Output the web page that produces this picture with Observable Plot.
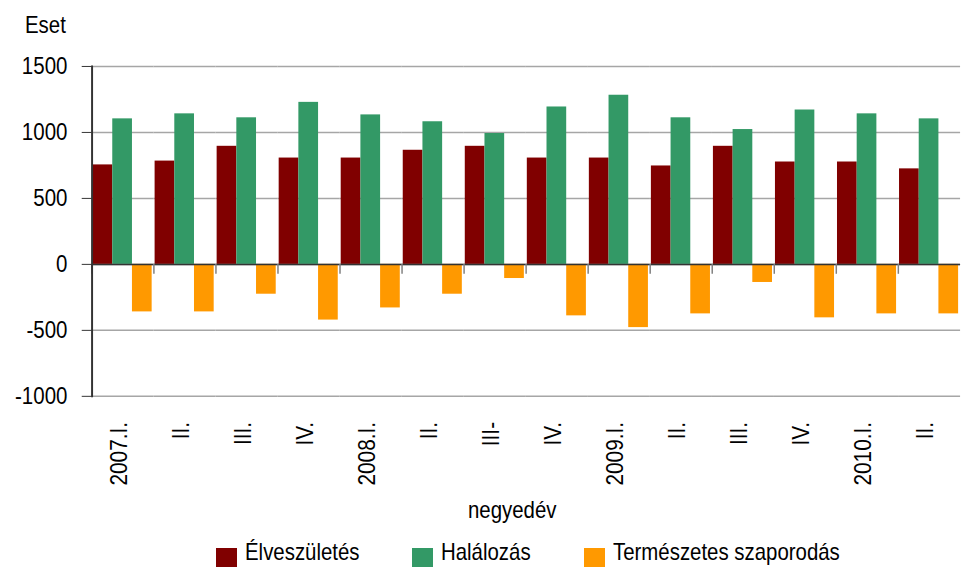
<!DOCTYPE html>
<html>
<head>
<meta charset="utf-8">
<script src="https://cdn.jsdelivr.net/npm/d3@7"></script>
<script src="https://cdn.jsdelivr.net/npm/@observablehq/plot@0.6"></script>
<style>
  html, body { margin: 0; padding: 0; background: #fff; overflow: hidden; }
  #wrap { position: relative; width: 965px; height: 568px; overflow: hidden;
          font-family: "Liberation Sans", Arial, sans-serif; color: #000; }
  #chart { position: absolute; left: 0; top: 0; }
  .lbl { position: absolute; font-size: 24px; line-height: 24px; white-space: nowrap;
         transform-origin: 0 0; transform: scaleX(0.85); }
  .sw { position: absolute; width: 21px; height: 19px; }
</style>
</head>
<body>
<div id="wrap">
  <div id="chart"></div>
  <div class="lbl" id="ylab" style="left:25px; top:13px;">Eset</div>
  <div class="lbl" id="xlab" style="left:468px; top:498px;">negyedév</div>
  <div id="legend"></div>
</div>
<script>
const categories = ["2007.I.", "II.", "III.", "IV.", "2008.I.", "II. ", "III-", "IV. ", "2009.I.", "II.  ", "III. ", "IV.  ", "2010.I.", "II.   "];
const series = ["Élveszületés", "Halálozás", "Természetes szaporodás"];
const colors = ["#800000", "#339966", "#FF9900"];
const births = [754, 783, 895, 806, 806, 865, 895, 806, 806, 746, 895, 776, 776, 724];
const deaths = [1103, 1141, 1111, 1228, 1133, 1081, 992, 1193, 1282, 1111, 1022, 1170, 1141, 1103];
const natural = [-360, -360, -226, -422, -330, -226, -107, -390, -479, -375, -137, -405, -375, -375];
const yTicks = [-1000, -500, 0, 500, 1000, 1500];

const values = [births, deaths, natural];
const data = [];
categories.forEach((c, i) => series.forEach((s, j) => data.push({cat: c, series: s, value: values[j][i]})));

const font = '"Liberation Sans", Arial, sans-serif';

const chart = Plot.plot({
  width: 980,
  height: 500,
  marginLeft: 91,
  marginRight: 3,
  marginTop: 67,
  marginBottom: 98,
  style: {fontFamily: font, fontSize: "24px", color: "#000", background: "#fff", overflow: "visible"},
  fx: {domain: categories, padding: 0, label: null},
  x: {domain: series, paddingInner: 0, paddingOuter: 0.045, align: 0.4, axis: null},
  y: {domain: [-1000, 1500], label: null},
  color: {domain: series, range: colors},
  marks: [
    Plot.gridY(yTicks, {stroke: "#a6a6a6", strokeOpacity: 1, strokeWidth: 1.5}),
    Plot.barY(data, {fx: "cat", x: "series", y: "value", fill: "series"}),
    Plot.ruleY([0], {stroke: "#333", strokeWidth: 1.5}),
    Plot.ruleX(categories, {fx: d => d, x: () => series[0], y1: 0, y2: -75, stroke: "#808080", strokeWidth: 1.5, dx: -11.2}),
    Plot.axisY(yTicks, {tickSize: 10, tickPadding: 15, stroke: "#333", fontSize: 24.5, label: null, tickFormat: d => String(d)}),
    Plot.frame({anchor: "left", facetAnchor: "left", stroke: "#333", strokeWidth: 2}),
    Plot.axisFx({anchor: "bottom", tickRotate: -90, tickSize: 0, tickPadding: 26, fontSize: 24, dx: -4, label: null, tickFormat: d => d.trim()})
  ]
});
document.getElementById("chart").appendChild(chart);

// condense text along its reading direction (reference uses a narrow face)
chart.querySelectorAll("text").forEach(t => {
  const tr = t.getAttribute("transform") || "";
  const k = tr.includes("rotate") ? 0.88 : 0.85;
  t.setAttribute("transform", `${tr} scale(${k},1)`);
});

const legend = document.getElementById("legend");
const legX = [216, 412, 584];
series.forEach((s, i) => {
  const sw = document.createElement("div");
  sw.className = "sw";
  sw.style.left = legX[i] + "px";
  sw.style.top = "548px";
  sw.style.background = colors[i];
  legend.appendChild(sw);
  const t = document.createElement("div");
  t.className = "lbl";
  t.style.left = (legX[i] + 29) + "px";
  t.style.top = "540px";
  t.textContent = s;
  legend.appendChild(t);
});
</script>
</body>
</html>
